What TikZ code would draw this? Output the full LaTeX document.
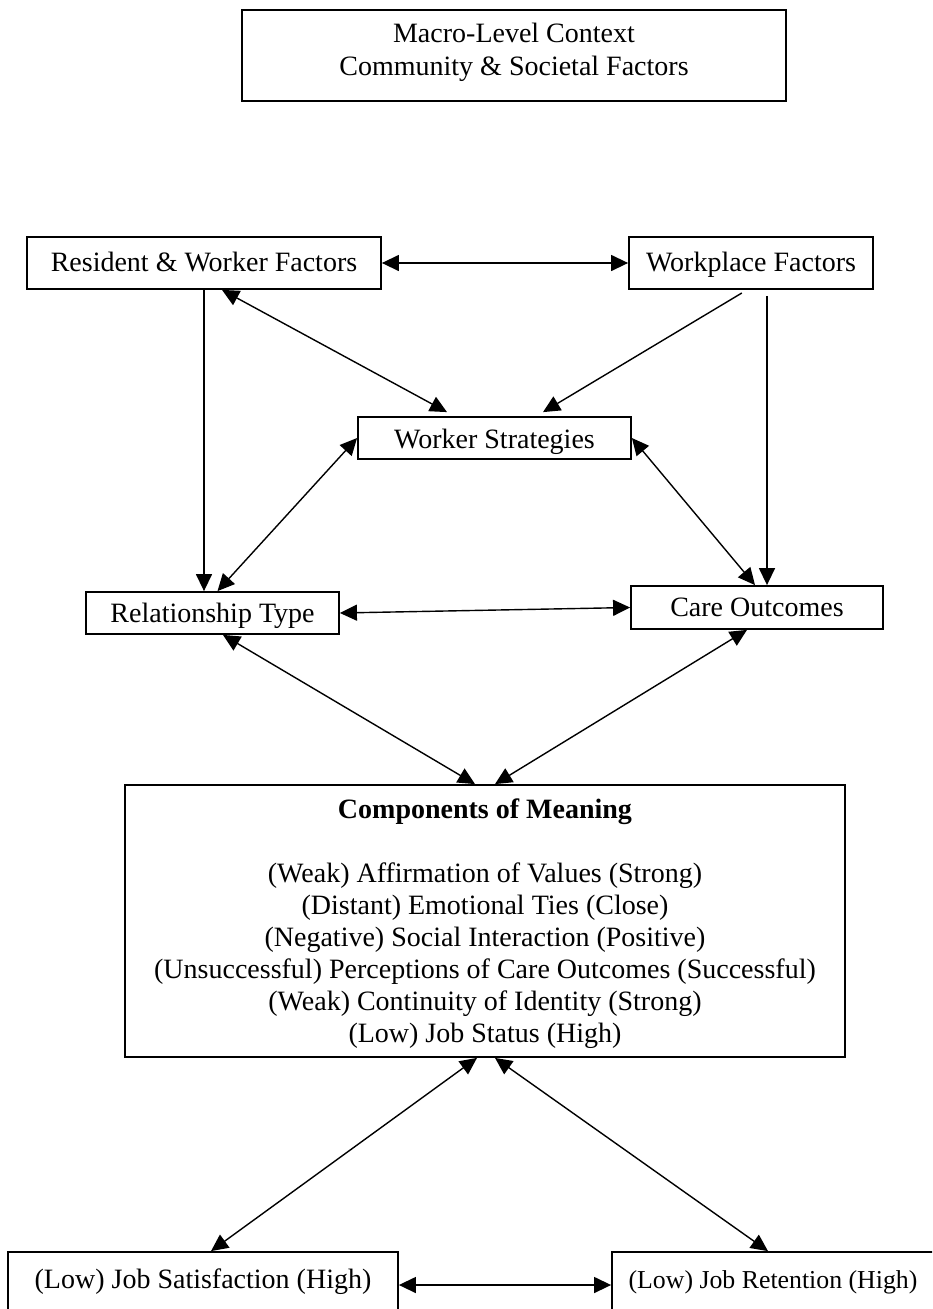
\documentclass[tikz,border=0pt]{standalone}
\usepackage{fontspec}
\setmainfont{Liberation Serif}
\usetikzlibrary{arrows.meta}
\begin{document}
\begin{tikzpicture}[x=1pt,y=-1pt,
  box/.style={draw, line width=1.8pt, inner sep=0pt, text height=19.6pt, text depth=1.1pt, font=\fontsize{28}{32}\selectfont},
  frame/.style={draw, line width=1.8pt, inner sep=0pt},
  txt/.style={inner sep=0pt, align=center, font=\fontsize{28}{32}\selectfont},
  arr/.style={line width=1.4pt, -{Triangle[length=17pt,width=16pt]}},
  darr/.style={line width=1.4pt, {Triangle[length=17pt,width=16pt]}-{Triangle[length=17pt,width=16pt]}}]
\useasboundingbox (0,0) rectangle (932,1309);
\begin{scope}
\clip (0,0) rectangle (932,1309);
% boxes
\node[frame, minimum width=544pt, minimum height=91pt] (macro) at (514,55.5) {};
\node[txt, font=\fontsize{28}{33}\selectfont] (macrotext) at (514,52) {Macro-Level Context\\Community \& Societal Factors};
\node[box, minimum width=354pt, minimum height=52pt] (res) at (204,263) {\raisebox{1pt}{Resident \& Worker Factors}};
\node[box, minimum width=244pt, minimum height=52pt] (work) at (751,263) {\raisebox{1pt}{Workplace Factors}};
\node[box, minimum width=273pt, minimum height=42pt] (strat) at (494.5,438) {\raisebox{-1pt}{Worker Strategies}};
\node[box, minimum width=253pt, minimum height=42pt] (rel) at (212.5,613) {Relationship Type};
\node[box, minimum width=252pt, minimum height=43pt] (care) at (757,607.5) {Care Outcomes};
\node[frame, minimum width=720pt, minimum height=272pt] (comp) at (485,921) {};
\node[txt] (comptext) at (485,924) {\textbf{Components of Meaning}\\[32pt]
(Weak) Affirmation of Values (Strong)\\
(Distant) Emotional Ties (Close)\\
(Negative) Social Interaction (Positive)\\
(Unsuccessful) Perceptions of Care Outcomes (Successful)\\
(Weak) Continuity of Identity (Strong)\\
(Low) Job Status (High)};
\node[box, minimum width=390pt, minimum height=62pt] (sat) at (203,1283) {\raisebox{4pt}{(Low) Job Satisfaction (High)}};
\node[box, minimum width=322pt, minimum height=62pt, font=\fontsize{25.8}{30}\selectfont] (ret) at (773,1283) {\raisebox{4pt}{(Low) Job Retention (High)}};
% connectors
\draw[darr] (res.east) -- (work.west);
\draw[darr] ([xshift=18pt]res.south) -- ([xshift=-47.5pt,yshift=4pt]strat.north);
\draw[arr, shorten <=6pt] ([xshift=-4pt]work.south) -- ([xshift=48.5pt,yshift=4pt]strat.north);
\draw[arr] (res.south) -- (res.south |- rel.north);
\draw[darr] (strat.west) -- ([xshift=5pt]rel.north);
\draw[darr] (strat.east) -- ([xshift=-2pt]care.north);
\draw[arr, shorten <=6pt] ([xshift=16pt]work.south) -- ([xshift=16pt]work.south |- care.north);
\draw[darr] (rel.east) -- (care.west);
\draw[darr] ([xshift=10.5pt]rel.south) -- ([xshift=-10pt]comp.north);
\draw[darr] ([xshift=-10pt]care.south) -- ([xshift=10pt]comp.north);
\draw[darr] ([xshift=-8pt]comp.south) -- ([xshift=8pt]sat.north);
\draw[darr] ([xshift=10pt]comp.south) -- ([xshift=-5pt]ret.north);
\draw[darr] ([yshift=-2pt]sat.east) -- ([yshift=-2pt]ret.west);
\end{scope}
\end{tikzpicture}
\end{document}
